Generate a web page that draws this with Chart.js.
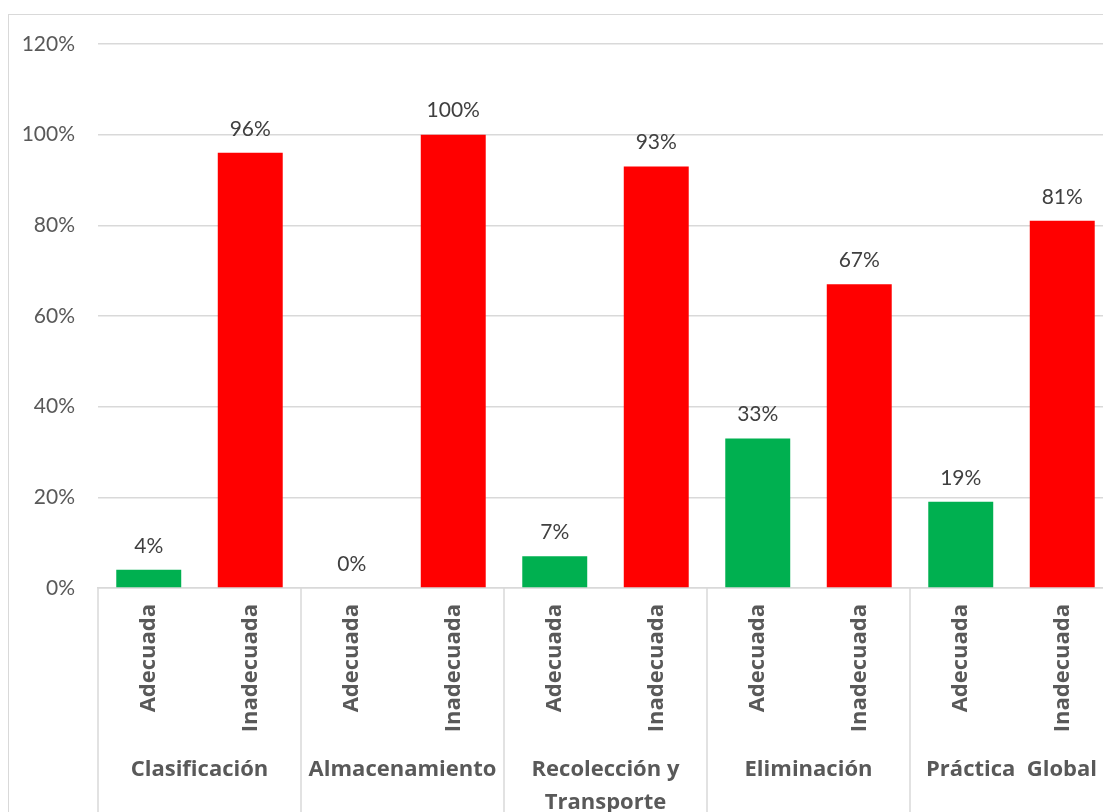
<!DOCTYPE html>
<html lang="es">
<head>
    <meta charset="UTF-8">
    <title>Práctica de manejo de residuos</title>
    <script src="https://cdn.jsdelivr.net/npm/chart.js"></script>
    <style>
        body { margin: 0; overflow: hidden; background: #fff; }
        #frame { position: absolute; left: 8px; top: 14px; width: 1200px; height: 900px; border: 1px solid #d9d9d9; pointer-events: none; }
        #chart { position: absolute; left: 0; top: 0; }
    </style>
</head>
<body>
    <div id="frame"></div>
    <canvas id="chart" width="1115" height="812"></canvas>
    <script>
        const groups = [["Clasificación"], ["Almacenamiento"], ["Recolección y", "Transporte"], ["Eliminación"], ["Práctica  Global"]];
        const levels = ["Adecuada", "Inadecuada"];
        const values = [4, 96, 0, 100, 7, 93, 33, 67, 19, 81];
        const yTicks = [0, 20, 40, 60, 80, 100, 120];

        const GREEN = '#00B050';
        const RED = '#FF0000';
        const GRID = '#d9d9d9';
        const FONT = 'Lato, "Open Sans", sans-serif';
        const BOLD_FONT = '"Open Sans", "Noto Sans", sans-serif';

        const labels = [];
        const colors = [];
        groups.forEach(() => {
            levels.forEach((lv, i) => {
                labels.push(lv);
                colors.push(i === 0 ? GREEN : RED);
            });
        });

        // value labels above each bar
        const barValues = {
            id: 'barValues',
            afterDatasetsDraw(chart) {
                const ctx = chart.ctx;
                const meta = chart.getDatasetMeta(0);
                ctx.save();
                ctx.font = '21px ' + FONT;
                ctx.fillStyle = '#404040';
                ctx.textAlign = 'center';
                ctx.textBaseline = 'middle';
                meta.data.forEach((bar, i) => {
                    ctx.fillText(values[i] + '%', bar.x, bar.y - 24);
                });
                ctx.restore();
            }
        };

        // group separators and group names under the axis
        const groupAxis = {
            id: 'groupAxis',
            afterDraw(chart) {
                const ctx = chart.ctx;
                const x = chart.scales.x;
                const bottom = chart.chartArea.bottom;
                const n = levels.length;
                const step = x.getPixelForValue(1) - x.getPixelForValue(0);
                ctx.save();
                ctx.strokeStyle = GRID;
                ctx.lineWidth = 1.5;
                for (let g = 0; g <= groups.length; g++) {
                    const px = Math.round(x.getPixelForValue(g * n) - step / 2);
                    ctx.beginPath();
                    ctx.moveTo(px, bottom);
                    ctx.lineTo(px, chart.height);
                    ctx.stroke();
                }
                ctx.font = 'bold 22px ' + BOLD_FONT;
                ctx.fillStyle = '#595959';
                ctx.textAlign = 'center';
                ctx.textBaseline = 'middle';
                groups.forEach((lines, g) => {
                    const cx = (x.getPixelForValue(g * n) + x.getPixelForValue(g * n + n - 1)) / 2;
                    lines.forEach((line, j) => {
                        ctx.fillText(line, cx, 770 + j * 33);
                    });
                });
                ctx.restore();
            }
        };

        new Chart(document.getElementById('chart'), {
            type: 'bar',
            data: {
                labels: labels,
                datasets: [{
                    data: values,
                    backgroundColor: colors,
                    barPercentage: 0.64,
                    categoryPercentage: 1
                }]
            },
            options: {
                responsive: false,
                animation: false,
                devicePixelRatio: 1,
                layout: { padding: { top: 44, right: 2, left: 0, bottom: 0 } },
                plugins: { legend: { display: false }, tooltip: { enabled: false } },
                scales: {
                    x: {
                        grid: { display: false, drawTicks: false },
                        border: { display: true, color: GRID, width: 1.5 },
                        ticks: {
                            minRotation: 90, maxRotation: 90, padding: 16,
                            color: '#595959',
                            font: { family: BOLD_FONT, size: 22, weight: 'bold' }
                        },
                        afterFit(scale) { scale.height = 224; }
                    },
                    y: {
                        min: 0, max: 120,
                        afterBuildTicks(scale) { scale.ticks = yTicks.map(v => ({ value: v })); },
                        grid: { color: GRID, lineWidth: 1.5, drawTicks: false },
                        border: { display: false },
                        ticks: {
                            padding: 23,
                            color: '#595959',
                            font: { family: FONT, size: 21 },
                            callback: v => v + '%'
                        },
                        afterFit(scale) { scale.width = 98; }
                    }
                }
            },
            plugins: [barValues, groupAxis]
        });
    </script>
</body>
</html>
